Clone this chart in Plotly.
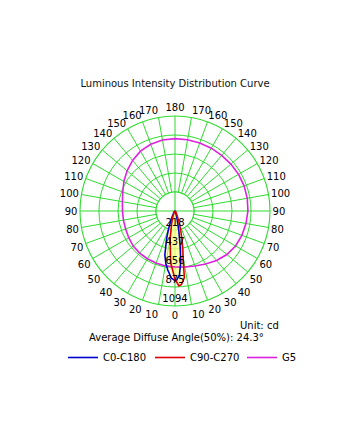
import plotly.graph_objects as go
import numpy as np

# ---- data ----
g5_theta = list(range(0, 370, 10))
g5_r = [645, 655, 675, 705, 745, 780, 805, 820, 830, 840, 845, 847, 845, 840, 836, 835, 833, 833,
        833, 830, 818, 795, 760, 720, 680, 640, 615, 605, 603, 605, 615, 628, 633, 635, 638, 642, 645]

c0_theta = [-90, -60, -40, -30, -25, -20, -17, -13, -10, -7, -3, 0, 1, 4, 6.5, 8.5, 11, 15, 20, 30, 60, 90]
c0_r = [0, 5, 20, 40, 90, 210, 330, 520, 610, 685, 776, 800, 806, 737, 587, 396, 230, 90, 30, 10, 5, 0]

c90_theta = [-90, -40, -25, -20, -15, -10, -5, 0, 3, 5, 8, 9.3, 12, 14, 17, 20, 25, 30, 40, 90]
c90_r = [0, 10, 40, 80, 150, 320, 590, 785, 864, 850, 775, 590, 430, 320, 220, 130, 60, 30, 10, 0]

r_max = 1094
r_ticks = [218.8, 437.6, 656.4, 875.2, 1094]
r_labels = ["218", "437", "656", "875", "1094"]

ang_vals = list(range(0, 360, 10))
ang_text = [str(v if v <= 180 else 360 - v) for v in ang_vals]

GREEN = "#2edc2e"
FONT = "DejaVu Sans"
FILL = "rgba(255,255,140,0.5)"

fig = go.Figure()

# white inner disk (no spokes inside first ring)
disk_t = np.linspace(0, 360, 181)
fig.add_trace(go.Scatterpolar(r=[r_ticks[0]] * len(disk_t), theta=disk_t, mode="lines",
                              fill="toself", fillcolor="white",
                              line=dict(color=GREEN, width=1.1), showlegend=False, hoverinfo="skip"))
fig.add_trace(go.Scatterpolar(r=[r_ticks[0], 0, r_ticks[0]], theta=[0, 0, 180], mode="lines",
                              line=dict(color=GREEN, width=1.1), showlegend=False, hoverinfo="skip"))
fig.add_trace(go.Scatterpolar(r=[r_ticks[0], 0, r_ticks[0]], theta=[90, 90, 270], mode="lines",
                              line=dict(color=GREEN, width=1.1), showlegend=False, hoverinfo="skip"))

# fills (no legend)
fig.add_trace(go.Scatterpolar(r=c0_r, theta=c0_theta, mode="none", fill="toself", fillcolor=FILL,
                              showlegend=False, hoverinfo="skip"))
fig.add_trace(go.Scatterpolar(r=c90_r, theta=c90_theta, mode="none", fill="toself", fillcolor=FILL,
                              showlegend=False, hoverinfo="skip"))

fig.add_trace(go.Scatterpolar(r=g5_r, theta=g5_theta, mode="lines", name="G5",
                              line=dict(color="#dd22dd", width=1.6), legend="legend3"))
fig.add_trace(go.Scatterpolar(r=c0_r, theta=c0_theta, mode="lines", name="C0-C180",
                              line=dict(color="#0000cc", width=1.6), legend="legend"))
fig.add_trace(go.Scatterpolar(r=c90_r, theta=c90_theta, mode="lines", name="C90-C270",
                              line=dict(color="#dd0000", width=1.6), legend="legend2"))

fig.add_trace(go.Scatterpolar(r=[v - 80 for v in r_ticks], theta=[0] * len(r_ticks), mode="text",
                              text=r_labels, textfont=dict(size=10, color="black", family=FONT),
                              showlegend=False, hoverinfo="skip"))

leg_common = dict(orientation="h", xanchor="left", y=1 - 343 / 435, yanchor="top",
                  font=dict(size=10, family=FONT), bgcolor="rgba(0,0,0,0)")

fig.update_layout(
    width=350, height=435,
    margin=dict(l=0, r=0, t=0, b=0),
    paper_bgcolor="white",
    font=dict(family=FONT, size=10, color="black"),
    title=dict(text="Luminous Intensity Distribution Curve", x=0.5, xanchor="center",
               y=1 - 83 / 435, yanchor="middle", font=dict(size=10, color="#111", family=FONT)),
    polar=dict(
        domain=dict(x=[80 / 350, 270 / 350], y=[1 - 306 / 435, 1 - 116 / 435]),
        bgcolor="white",
        angularaxis=dict(rotation=270, direction="counterclockwise",
                         tickmode="array", tickvals=ang_vals, ticktext=ang_text,
                         showline=True, linecolor=GREEN, linewidth=1.1,
                         gridcolor=GREEN, gridwidth=1.1, ticks="",
                         tickfont=dict(size=10, color="black", family=FONT)),
        radialaxis=dict(range=[0, r_max], tickmode="array", tickvals=r_ticks,
                        showticklabels=False, ticks="", showline=False,
                        gridcolor=GREEN, gridwidth=1.1),
    ),
    showlegend=True,
    legend=dict(x=63 / 350, **leg_common),
    legend2=dict(x=150 / 350, **leg_common),
    legend3=dict(x=242 / 350, **leg_common),
    annotations=[
        dict(text="Unit: cd", x=281 / 350, y=1 - 325 / 435, xref="paper", yref="paper",
             xanchor="right", yanchor="middle", showarrow=False, font=dict(size=10)),
        dict(text="Average Diffuse Angle(50%): 24.3°", x=176 / 350, y=1 - 337 / 435, xref="paper",
             yref="paper", xanchor="center", yanchor="middle", showarrow=False, font=dict(size=10)),
    ],
)

fig.write_html("out.html")
